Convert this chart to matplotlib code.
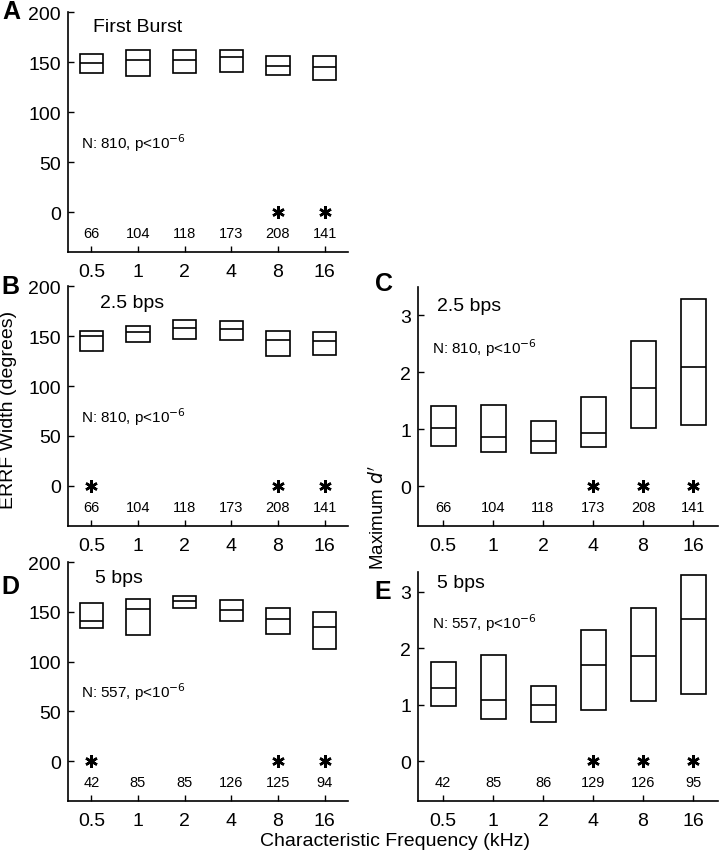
import matplotlib
matplotlib.use("Agg")
import matplotlib.pyplot as plt
import numpy as np

plt.rcParams['font.family'] = ['Liberation Sans', 'DejaVu Sans']

cf_labels = ['0.5', '1', '2', '4', '8', '16']

# Panel A: ERRF width, First Burst
a_lo = [139, 136, 139, 140, 137, 132]
a_med = [149, 152, 152, 155, 146, 145]
a_hi = [158, 162, 162, 162, 156, 156]
a_n = [66, 104, 118, 173, 208, 141]
a_sig = [False, False, False, False, True, True]

# Panel B: ERRF width, 2.5 bps
b_lo = [135, 144, 147, 146, 130, 131]
b_med = [150, 154, 158, 157, 146, 145]
b_hi = [155, 160, 166, 165, 155, 154]
b_n = [66, 104, 118, 173, 208, 141]
b_sig = [True, False, False, False, True, True]

# Panel D: ERRF width, 5 bps
d_lo = [134, 127, 154, 141, 128, 113]
d_med = [141, 153, 161, 152, 143, 135]
d_hi = [159, 163, 166, 162, 154, 150]
d_n = [42, 85, 85, 126, 125, 94]
d_sig = [True, False, False, False, True, True]

# Panel C: Maximum d', 2.5 bps
c_lo = [0.71, 0.60, 0.58, 0.69, 1.03, 1.08]
c_med = [1.02, 0.86, 0.79, 0.94, 1.73, 2.09]
c_hi = [1.41, 1.42, 1.14, 1.56, 2.55, 3.29]
c_n = [66, 104, 118, 173, 208, 141]
c_sig = [False, False, False, True, True, True]

# Panel E: Maximum d', 5 bps
e_lo = [0.98, 0.75, 0.70, 0.91, 1.06, 1.20]
e_med = [1.29, 1.09, 0.99, 1.71, 1.87, 2.51]
e_hi = [1.75, 1.89, 1.34, 2.33, 2.72, 3.30]
e_n = [42, 85, 86, 129, 126, 95]
e_sig = [False, False, False, True, True, True]

W, H = 719, 853
fig = plt.figure(figsize=(W / 100, H / 100), dpi=100)


def axes_px(x0, x1, y0, y1):
    return fig.add_axes([x0 / W, 1 - y1 / H, (x1 - x0) / W, (y1 - y0) / H])


def draw(ax, lo, med, hi, n, sig, ylim, yticks, nrow, title, tpos, ntext, npos):
    x = np.arange(len(cf_labels))
    lo = np.array(lo); hi = np.array(hi); med = np.array(med)
    ax.bar(x, hi - lo, bottom=lo, width=0.5, fill=False, edgecolor='black', linewidth=1.2)
    ax.hlines(med, x - 0.25, x + 0.25, colors='black', linewidth=1.2)
    for xi, s, cnt in zip(x, sig, n):
        if s:
            ax.plot(xi, 0, marker=(6, 2, 0), color='black', markersize=9, mew=1.8)
        ax.text(xi, nrow, str(cnt), ha='center', va='center', fontsize=10.5)
    ax.set_xlim(-0.5, 5.5)
    ax.set_ylim(*ylim)
    ax.set_xticks(x)
    ax.set_xticklabels(cf_labels)
    ax.set_yticks(yticks)
    ax.tick_params(direction='in', length=4, width=1, labelsize=14)
    ax.tick_params(axis='x', pad=8)
    ax.tick_params(axis='y', pad=5)
    for s in ['top', 'right']:
        ax.spines[s].set_visible(False)
    for s in ['left', 'bottom']:
        ax.spines[s].set_linewidth(1.2)
    ax.text(tpos[0], tpos[1], title, ha='left', va='center', fontsize=14)
    ax.text(npos[0], npos[1], ntext, ha='left', va='center', fontsize=11)


ptxt810 = r'N: 810, p<10$^{-6}$'
ptxt557 = r'N: 557, p<10$^{-6}$'

axA = axes_px(68, 348, 13, 253)
draw(axA, a_lo, a_med, a_hi, a_n, a_sig, (-40, 200), [0, 50, 100, 150, 200], -21,
     'First Burst', (0.03, 186), ptxt810, (-0.22, 70))
axB = axes_px(68, 348, 287, 527)
draw(axB, b_lo, b_med, b_hi, b_n, b_sig, (-40, 200), [0, 50, 100, 150, 200], -21,
     '2.5 bps', (0.18, 183), ptxt810, (-0.22, 70))
axD = axes_px(68, 348, 563, 802)
draw(axD, d_lo, d_med, d_hi, d_n, d_sig, (-40, 200), [0, 50, 100, 150, 200], -21,
     '5 bps', (0.08, 184), ptxt557, (-0.22, 70))
axC = axes_px(418, 718, 288, 527)
draw(axC, c_lo, c_med, c_hi, c_n, c_sig, (-0.7, 3.5), [0, 1, 2, 3], -0.37,
     '2.5 bps', (-0.12, 3.17), ptxt810, (-0.22, 2.44))
axE = axes_px(418, 718, 573, 802)
draw(axE, e_lo, e_med, e_hi, e_n, e_sig, (-0.7, 3.35), [0, 1, 2, 3], -0.37,
     '5 bps', (-0.12, 3.16), ptxt557, (-0.22, 2.46))

# Panel letters
for lab, px, py in [('A', 11, 12), ('B', 10, 287), ('C', 384, 284), ('D', 10, 587), ('E', 383, 592)]:
    fig.text(px / W, 1 - py / H, lab, fontsize=18, fontweight='bold', ha='center', va='center')

fig.text(9 / W, 1 - 410 / H, 'ERRF Width (degrees)', rotation=90, ha='center', va='center', fontsize=14)
fig.text(378 / W, 1 - 517 / H, r"Maximum $\it{d'}$", rotation=90, ha='center', va='center', fontsize=13.5)
fig.text(395 / W, 1 - 842 / H, 'Characteristic Frequency (kHz)', ha='center', va='center', fontsize=14)

fig.savefig('out.png', dpi=100)
